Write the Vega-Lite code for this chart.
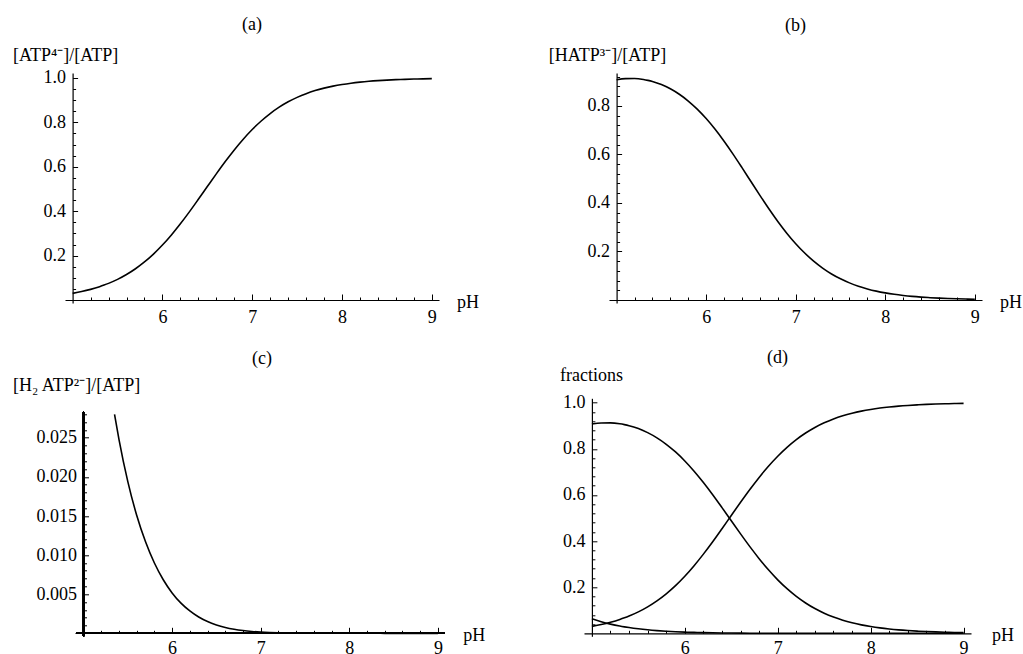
{
  "$schema": "https://vega.github.io/schema/vega-lite/v6.json",
  "padding": {"left": 12, "top": 16, "right": 0, "bottom": 0},
  "datasets": {
    "atp": [
      {"pH": 5.0, "ATP": 0.0300, "HATP": 0.9072, "H2ATP": 0.0628},
      {"pH": 5.1, "ATP": 0.0380, "HATP": 0.9118, "H2ATP": 0.0501},
      {"pH": 5.2, "ATP": 0.0479, "HATP": 0.9123, "H2ATP": 0.0398},
      {"pH": 5.3, "ATP": 0.0600, "HATP": 0.9084, "H2ATP": 0.0315},
      {"pH": 5.35, "ATP": 0.0671, "HATP": 0.9048, "H2ATP": 0.0280},
      {"pH": 5.4, "ATP": 0.0749, "HATP": 0.9003, "H2ATP": 0.0248},
      {"pH": 5.5, "ATP": 0.0929, "HATP": 0.8877, "H2ATP": 0.0194},
      {"pH": 5.6, "ATP": 0.1147, "HATP": 0.8702, "H2ATP": 0.0151},
      {"pH": 5.7, "ATP": 0.1407, "HATP": 0.8476, "H2ATP": 0.0117},
      {"pH": 5.8, "ATP": 0.1713, "HATP": 0.8197, "H2ATP": 0.00899},
      {"pH": 5.9, "ATP": 0.2068, "HATP": 0.7863, "H2ATP": 0.00685},
      {"pH": 6.0, "ATP": 0.2475, "HATP": 0.7474, "H2ATP": 0.00517},
      {"pH": 6.1, "ATP": 0.2931, "HATP": 0.7031, "H2ATP": 0.00386},
      {"pH": 6.2, "ATP": 0.3433, "HATP": 0.6540, "H2ATP": 0.00286},
      {"pH": 6.3, "ATP": 0.3970, "HATP": 0.6010, "H2ATP": 0.00208},
      {"pH": 6.4, "ATP": 0.4535, "HATP": 0.5451, "H2ATP": 0.00150},
      {"pH": 6.5, "ATP": 0.5110, "HATP": 0.4880, "H2ATP": 0.00107},
      {"pH": 6.6, "ATP": 0.5682, "HATP": 0.4311, "H2ATP": 0.000749},
      {"pH": 6.7, "ATP": 0.6237, "HATP": 0.3758, "H2ATP": 0.000519},
      {"pH": 6.8, "ATP": 0.6761, "HATP": 0.3236, "H2ATP": 0.000355},
      {"pH": 6.9, "ATP": 0.7244, "HATP": 0.2754, "H2ATP": 0.000240},
      {"pH": 7.0, "ATP": 0.7679, "HATP": 0.2319, "H2ATP": 0.000160},
      {"pH": 7.1, "ATP": 0.8064, "HATP": 0.1935, "H2ATP": 0.000106},
      {"pH": 7.2, "ATP": 0.8399, "HATP": 0.1600, "H2ATP": 0.0000699},
      {"pH": 7.3, "ATP": 0.8685, "HATP": 0.1315, "H2ATP": 0.0000456},
      {"pH": 7.4, "ATP": 0.8927, "HATP": 0.1073, "H2ATP": 0.0000296},
      {"pH": 7.5, "ATP": 0.9128, "HATP": 0.0872, "H2ATP": 0.0000191},
      {"pH": 7.6, "ATP": 0.9295, "HATP": 0.0705, "H2ATP": 0.0000123},
      {"pH": 7.7, "ATP": 0.9432, "HATP": 0.0568, "H2ATP": 0.0000078},
      {"pH": 7.8, "ATP": 0.9543, "HATP": 0.0457, "H2ATP": 0.0000050},
      {"pH": 7.9, "ATP": 0.9634, "HATP": 0.0366, "H2ATP": 0.0000032},
      {"pH": 8.0, "ATP": 0.9707, "HATP": 0.0293, "H2ATP": 0.0000020},
      {"pH": 8.1, "ATP": 0.9766, "HATP": 0.0234, "H2ATP": 0.0000013},
      {"pH": 8.2, "ATP": 0.9813, "HATP": 0.0187, "H2ATP": 0.0000008},
      {"pH": 8.3, "ATP": 0.9851, "HATP": 0.0149, "H2ATP": 0.0000005},
      {"pH": 8.4, "ATP": 0.9881, "HATP": 0.0119, "H2ATP": 0.0000003},
      {"pH": 8.5, "ATP": 0.9905, "HATP": 0.0095, "H2ATP": 0.0000002},
      {"pH": 8.6, "ATP": 0.9925, "HATP": 0.0075, "H2ATP": 0.0000001},
      {"pH": 8.7, "ATP": 0.9940, "HATP": 0.0060, "H2ATP": 0.0000001},
      {"pH": 8.8, "ATP": 0.9952, "HATP": 0.0048, "H2ATP": 0.0000001},
      {"pH": 8.9, "ATP": 0.9962, "HATP": 0.0038, "H2ATP": 0.0},
      {"pH": 9.0, "ATP": 0.9970, "HATP": 0.0030, "H2ATP": 0.0}
    ]
  },
  "vconcat": [
    {
      "hconcat": [
        {
          "data": {"name": "atp"},
          "width": 374,
          "height": 230,
          "title": {"text": "(a)", "offset": 12.3},
          "layer": [
            {
              "mark": {"type": "line", "interpolate": "monotone", "color": "black", "strokeWidth": 1.6},
              "encoding": {
                "x": {"field": "pH", "type": "quantitative", "scale": {"domain": [4.915, 9.08], "nice": false, "zero": false},
                  "axis": {"orient": "bottom", "offset": -3, "values": [6, 7, 8, 9], "ticks": false, "labelPadding": 8,
                    "title": "pH", "titleX": 391.5, "titleY": 7, "titleAlign": "left", "titleBaseline": "alphabetic", "titleAngle": 0}},
                "y": {"field": "ATP", "type": "quantitative", "scale": {"domain": [-0.0135, 1.0225], "nice": false, "zero": false},
                  "axis": {"orient": "left", "offset": -7.6, "values": [0.2, 0.4, 0.6, 0.8, 1.0], "format": ".1f", "ticks": false, "labelPadding": 7,
                    "title": "[ATP⁴⁻]/[ATP]", "titleAngle": 0, "titleAlign": "left", "titleBaseline": "alphabetic", "titleX": -60.1, "titleY": -12.7}}
              }
            },
            {
              "mark": {"type": "line", "strokeOpacity": 0, "clip": true},
              "encoding": {
                "x": {"field": "pH", "type": "quantitative",
                  "axis": {"orient": "top", "offset": -227, "labels": false, "domain": false, "title": null,
                    "values": [5.2, 5.4, 5.6, 5.8, 6, 6.2, 6.4, 6.6, 6.8, 7, 7.2, 7.4, 7.6, 7.8, 8, 8.2, 8.4, 8.6, 8.8, 9],
                    "tickSize": {"condition": {"test": "abs(datum.value - round(datum.value)) < 0.001", "value": 6}, "value": 3}}},
                "y": {"field": "ATP", "type": "quantitative",
                  "axis": {"orient": "right", "offset": -366.4, "labels": false, "domain": false, "title": null,
                    "values": [0.05, 0.1, 0.15, 0.2, 0.25, 0.3, 0.35, 0.4, 0.45, 0.5, 0.55, 0.6, 0.65, 0.7, 0.75, 0.8, 0.85, 0.9, 0.95, 1.0],
                    "tickSize": {"condition": {"test": "abs(datum.value * 5 - round(datum.value * 5)) < 0.001", "value": 5}, "value": 3}}}
              }
            }
          ],
          "resolve": {"axis": {"x": "independent", "y": "independent"}}
        },
        {
          "data": {"name": "atp"},
          "width": 373,
          "height": 230,
          "title": {"text": "(b)", "offset": 12.3},
          "layer": [
            {
              "mark": {"type": "line", "interpolate": "monotone", "color": "black", "strokeWidth": 1.6},
              "encoding": {
                "x": {"field": "pH", "type": "quantitative", "scale": {"domain": [4.915, 9.08], "nice": false, "zero": false},
                  "axis": {"orient": "bottom", "offset": -3, "values": [6, 7, 8, 9], "ticks": false, "labelPadding": 8,
                    "title": "pH", "titleX": 390.6, "titleY": 7, "titleAlign": "left", "titleBaseline": "alphabetic", "titleAngle": 0}},
                "y": {"field": "HATP", "type": "quantitative", "scale": {"domain": [-0.0124, 0.9351], "nice": false, "zero": false},
                  "axis": {"orient": "left", "offset": -7.6, "values": [0.2, 0.4, 0.6, 0.8], "format": ".1f", "ticks": false, "labelPadding": 7,
                    "title": "[HATP³⁻]/[ATP]", "titleAngle": 0, "titleAlign": "left", "titleBaseline": "alphabetic", "titleX": -68.3, "titleY": -12.2}}
              }
            },
            {
              "mark": {"type": "line", "strokeOpacity": 0, "clip": true},
              "encoding": {
                "x": {"field": "pH", "type": "quantitative",
                  "axis": {"orient": "top", "offset": -227, "labels": false, "domain": false, "title": null,
                    "values": [5.2, 5.4, 5.6, 5.8, 6, 6.2, 6.4, 6.6, 6.8, 7, 7.2, 7.4, 7.6, 7.8, 8, 8.2, 8.4, 8.6, 8.8, 9],
                    "tickSize": {"condition": {"test": "abs(datum.value - round(datum.value)) < 0.001", "value": 6}, "value": 3}}},
                "y": {"field": "HATP", "type": "quantitative",
                  "axis": {"orient": "right", "offset": -365.4, "labels": false, "domain": false, "title": null,
                    "values": [0.04, 0.08, 0.12, 0.16, 0.2, 0.24, 0.28, 0.32, 0.36, 0.4, 0.44, 0.48, 0.52, 0.56, 0.6, 0.64, 0.68, 0.72, 0.76, 0.8, 0.84, 0.88, 0.92],
                    "tickSize": {"condition": {"test": "abs(datum.value * 5 - round(datum.value * 5)) < 0.001", "value": 5}, "value": 3}}}
              }
            }
          ],
          "resolve": {"axis": {"x": "independent", "y": "independent"}}
        }
      ],
      "spacing": 170,
      "bounds": "flush"
    },
    {
      "hconcat": [
        {
          "data": {"name": "atp"},
          "transform": [{"filter": "datum.pH >= 5.35"}],
          "width": 380,
          "height": 238,
          "title": {"text": "(c)", "offset": 8, "dx": 7},
          "layer": [
            {
              "mark": {"type": "line", "interpolate": "monotone", "color": "black", "strokeWidth": 1.6},
              "encoding": {
                "x": {"field": "pH", "type": "quantitative", "scale": {"domain": [4.791, 9.08], "nice": false, "zero": false},
                  "axis": {"orient": "bottom", "offset": -3, "values": [6, 7, 8, 9], "ticks": false, "labelPadding": 6, "domain": false,
                    "title": "pH", "titleX": 397.7, "titleY": 7, "titleAlign": "left", "titleBaseline": "alphabetic", "titleAngle": 0}},
                "y": {"field": "H2ATP", "type": "quantitative", "scale": {"domain": [-0.00038, 0.03005], "nice": false, "zero": false},
                  "axis": {"orient": "left", "offset": -18.5, "values": [0.005, 0.01, 0.015, 0.02, 0.025], "format": ".3f", "ticks": false, "labelPadding": 7, "domain": false,
                    "title": "[H₂ ATP²⁻]/[ATP]", "titleAngle": 0, "titleAlign": "left", "titleBaseline": "alphabetic", "titleX": -71, "titleY": -8.3}}
              }
            },
            {
              "mark": {"type": "rule", "color": "black", "strokeWidth": 1.2},
              "encoding": {
                "x": {"datum": 5, "type": "quantitative", "axis": null},
                "y": {"datum": -0.00038, "type": "quantitative", "axis": null},
                "y2": {"datum": 0.02833}
              }
            },
            {
              "mark": {"type": "rule", "color": "black", "strokeWidth": 1.2},
              "encoding": {
                "x": {"datum": 4.915, "type": "quantitative", "axis": null},
                "x2": {"datum": 9.08},
                "y": {"datum": 0, "type": "quantitative", "axis": null}
              }
            },
            {
              "mark": {"type": "line", "strokeOpacity": 0, "clip": true},
              "encoding": {
                "x": {"field": "pH", "type": "quantitative",
                  "axis": {"orient": "top", "offset": -235, "labels": false, "domain": false, "title": null,
                    "values": [5.2, 5.4, 5.6, 5.8, 6, 6.2, 6.4, 6.6, 6.8, 7, 7.2, 7.4, 7.6, 7.8, 8, 8.2, 8.4, 8.6, 8.8, 9],
                    "tickSize": {"condition": {"test": "abs(datum.value - round(datum.value)) < 0.001", "value": 6}, "value": 3}}},
                "y": {"field": "H2ATP", "type": "quantitative",
                  "axis": {"orient": "right", "offset": -361.5, "labels": false, "domain": false, "title": null,
                    "values": [0.001, 0.002, 0.003, 0.004, 0.005, 0.006, 0.007, 0.008, 0.009, 0.01, 0.011, 0.012, 0.013, 0.014, 0.015, 0.016, 0.017, 0.018, 0.019, 0.02, 0.021, 0.022, 0.023, 0.024, 0.025, 0.026, 0.027, 0.028],
                    "tickSize": {"condition": {"test": "abs(datum.value * 200 - round(datum.value * 200)) < 0.001", "value": 5}, "value": 3}}}
              }
            }
          ],
          "resolve": {"axis": {"x": "independent", "y": "independent"}}
        },
        {
          "data": {"name": "atp"},
          "width": 387,
          "height": 238,
          "title": {"text": "(d)", "offset": -1},
          "layer": [
            {
              "transform": [{"fold": ["ATP", "HATP", "H2ATP"], "as": ["species", "fraction"]}],
              "mark": {"type": "line", "interpolate": "monotone", "color": "black", "strokeWidth": 1.6},
              "encoding": {
                "x": {"field": "pH", "type": "quantitative", "scale": {"domain": [4.915, 9.08], "nice": false, "zero": false},
                  "axis": {"orient": "bottom", "offset": -3, "values": [6, 7, 8, 9], "ticks": false, "labelPadding": 6,
                    "title": "pH", "titleX": 407.6, "titleY": 7, "titleAlign": "left", "titleBaseline": "alphabetic", "titleAngle": 0}},
                "y": {"field": "fraction", "type": "quantitative", "scale": {"domain": [-0.013, 1.019], "nice": false, "zero": false},
                  "axis": {"orient": "left", "offset": -7.9, "values": [0.2, 0.4, 0.6, 0.8, 1.0], "format": ".1f", "ticks": false, "labelPadding": 7,
                    "title": "fractions", "titleAngle": 0, "titleAlign": "left", "titleBaseline": "alphabetic", "titleX": -32.3, "titleY": -18.3}},
                "detail": {"field": "species", "type": "nominal"}
              }
            },
            {
              "mark": {"type": "line", "strokeOpacity": 0, "clip": true},
              "encoding": {
                "x": {"field": "pH", "type": "quantitative",
                  "axis": {"orient": "top", "offset": -235, "labels": false, "domain": false, "title": null,
                    "values": [5.2, 5.4, 5.6, 5.8, 6, 6.2, 6.4, 6.6, 6.8, 7, 7.2, 7.4, 7.6, 7.8, 8, 8.2, 8.4, 8.6, 8.8, 9],
                    "tickSize": {"condition": {"test": "abs(datum.value - round(datum.value)) < 0.001", "value": 6}, "value": 3}}},
                "y": {"field": "ATP", "type": "quantitative",
                  "axis": {"orient": "right", "offset": -379.1, "labels": false, "domain": false, "title": null,
                    "values": [0.04, 0.08, 0.12, 0.16, 0.2, 0.24, 0.28, 0.32, 0.36, 0.4, 0.44, 0.48, 0.52, 0.56, 0.6, 0.64, 0.68, 0.72, 0.76, 0.8, 0.84, 0.88, 0.92, 0.96, 1.0],
                    "tickSize": {"condition": {"test": "abs(datum.value * 5 - round(datum.value * 5)) < 0.001", "value": 5}, "value": 3}}}
              }
            }
          ],
          "resolve": {"axis": {"x": "independent", "y": "independent"}}
        }
      ],
      "spacing": 139,
      "bounds": "flush"
    }
  ],
  "spacing": 22.3,
  "config": {
    "view": {"stroke": null},
    "font": "Liberation Serif",
    "axis": {
      "grid": false,
      "labelFont": "Liberation Serif",
      "labelFontSize": 18,
      "labelColor": "black",
      "labelFlush": false,
      "labelOverlap": false,
      "titleFont": "Liberation Serif",
      "titleFontSize": 18,
      "titleFontWeight": "normal",
      "titleColor": "black",
      "domainColor": "black",
      "domainWidth": 1.2,
      "tickColor": "black",
      "tickWidth": 1
    },
    "title": {
      "font": "Liberation Serif",
      "fontSize": 18,
      "fontWeight": "normal",
      "color": "black",
      "anchor": "middle",
      "frame": "group",
      "baseline": "alphabetic"
    }
  }
}
